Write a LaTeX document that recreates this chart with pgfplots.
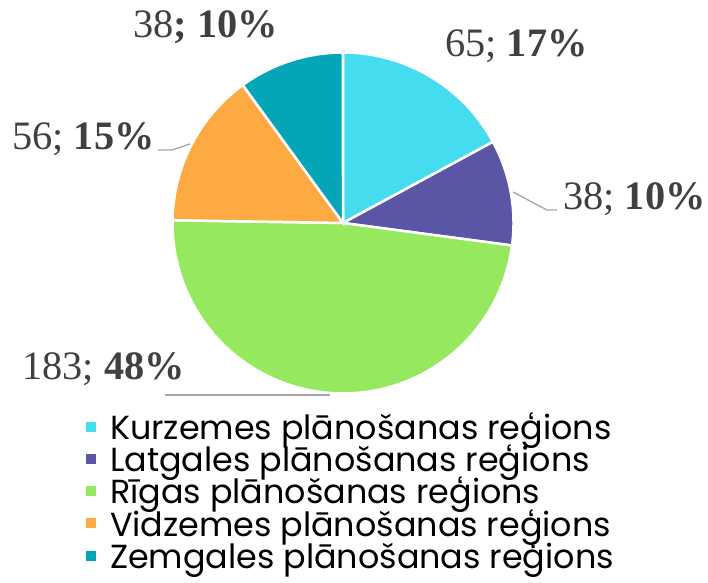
\documentclass[border=0pt]{standalone}
\usepackage{pgfplots}
\pgfplotsset{compat=1.18}
\usepackage{pgfplotstable}
\usepackage{fontspec}
\setmainfont{Liberation Serif}
\newfontfamily\legfont{Poppins}
\definecolor{cK}{HTML}{45DCF0}
\definecolor{cL}{HTML}{5A55A5}
\definecolor{cR}{HTML}{96E85F}
\definecolor{cV}{HTML}{FDAA43}
\definecolor{cZ}{HTML}{05A5B8}
\definecolor{lab}{HTML}{404040}
\definecolor{lead}{HTML}{A6A6A6}

\pgfplotstableread{
region value
Kurzemes 65
Latgales 38
Rigas 183
Vidzemes 56
Zemgales 38
}\piedata

\begin{document}
\begin{tikzpicture}[x=1bp,y=1bp]
\path[use as bounding box] (0,0) rectangle (708,583);
\pgfplotstablegetelem{0}{value}\of\piedata\let\vA\pgfplotsretval
\pgfplotstablegetelem{1}{value}\of\piedata\let\vB\pgfplotsretval
\pgfplotstablegetelem{2}{value}\of\piedata\let\vC\pgfplotsretval
\pgfplotstablegetelem{3}{value}\of\piedata\let\vD\pgfplotsretval
\pgfplotstablegetelem{4}{value}\of\piedata\let\vE\pgfplotsretval
\pgfmathsetmacro\tot{\vA+\vB+\vC+\vD+\vE}
\pgfmathsetmacro\aA{90}
\pgfmathsetmacro\aB{\aA-360*(\vA/\tot)}
\pgfmathsetmacro\aC{\aB-360*(\vB/\tot)}
\pgfmathsetmacro\aD{\aC-360*(\vC/\tot)}
\pgfmathsetmacro\aE{\aD-360*(\vD/\tot)}
\pgfmathsetmacro\aF{\aE-360*(\vE/\tot)}
\begin{axis}[at={(343bp,360bp)}, anchor=center, hide axis,
  x=170.5bp, y=170.5bp, xmin=-1, xmax=1, ymin=-1, ymax=1,
  clip=false, samples=90,
  legend image code/.code={\fill[#1,draw=none] (0bp,-5bp) rectangle (10bp,5bp);},
  legend cell align=left,
  legend style={at={(-0.254,-0.05)}, anchor=north west, draw=none, fill=none,
    font=\legfont\fontsize{33.5}{35}\selectfont, inner sep=0pt, row sep=0bp,
    /tikz/every odd column/.style={column sep=12bp}}]
\addplot[fill=cK, draw=white, line width=2.5pt, domain=\aB:\aA] ({cos(x)},{sin(x)}) -- (axis cs:0,0) -- cycle;
\addlegendentry{Kurzemes plānošanas reģions}
\addplot[fill=cL, draw=white, line width=2.5pt, domain=\aC:\aB] ({cos(x)},{sin(x)}) -- (axis cs:0,0) -- cycle;
\addlegendentry{Latgales plānošanas reģions}
\addplot[fill=cR, draw=white, line width=2.5pt, domain=\aD:\aC] ({cos(x)},{sin(x)}) -- (axis cs:0,0) -- cycle;
\addlegendentry{Rīgas plānošanas reģions}
\addplot[fill=cV, draw=white, line width=2.5pt, domain=\aE:\aD] ({cos(x)},{sin(x)}) -- (axis cs:0,0) -- cycle;
\addlegendentry{Vidzemes plānošanas reģions}
\addplot[fill=cZ, draw=white, line width=2.5pt, domain=\aF:\aE] ({cos(x)},{sin(x)}) -- (axis cs:0,0) -- cycle;
\addlegendentry{Zemgales plānošanas reģions}
\end{axis}
\draw[lead, line width=1.3pt] (513,391) -- (547,373) -- (557,373);
\draw[lead, line width=1.3pt] (158,433) -- (172,433) -- (190,439);
\draw[lead, line width=1.3pt] (165,188) -- (330,188);
\begin{scope}[every node/.style={anchor=base west, inner sep=0pt, text=lab, font=\fontsize{40.5}{42}\selectfont}]
\node at (445,526) {65; \textbf{17\%}};
\node at (563,373) {38; \textbf{10\%}};
\node at (22,203) {183; \textbf{48\%}};
\node at (12,433) {56; \textbf{15\%}};
\node at (133,545) {38\textbf{; 10\%}};
\end{scope}
\end{tikzpicture}
\end{document}
